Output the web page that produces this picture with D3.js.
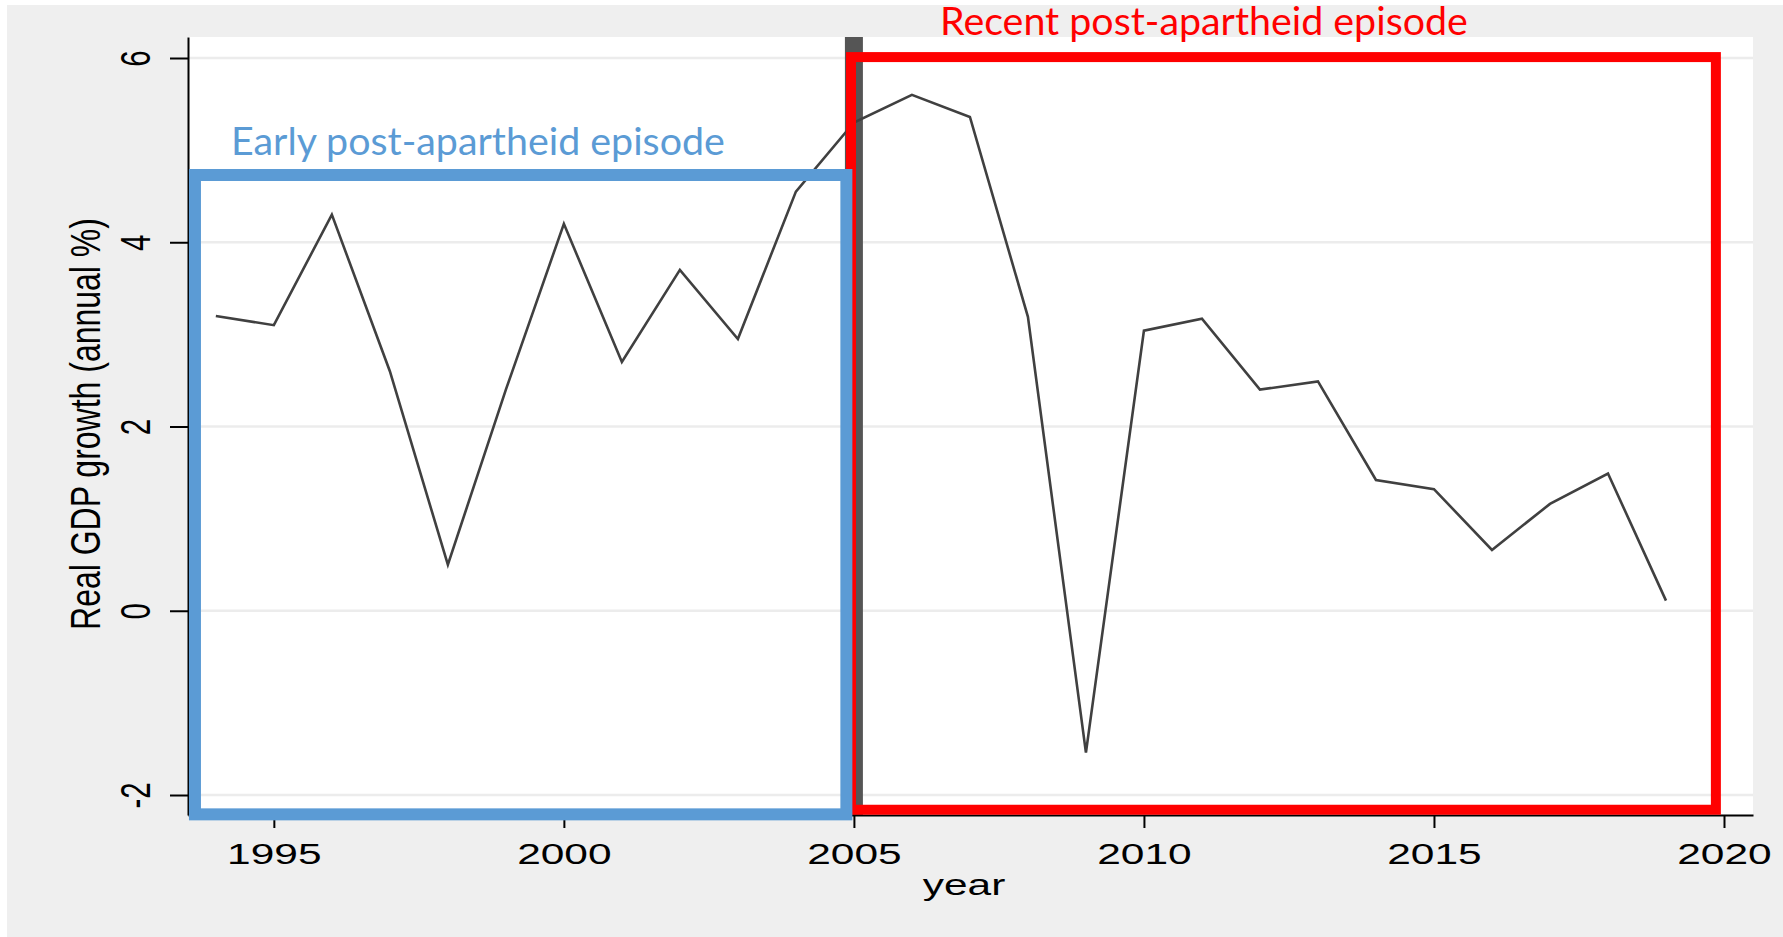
<!DOCTYPE html>
<html>
<head>
<meta charset="utf-8">
<script src="https://cdn.jsdelivr.net/npm/d3@7"></script>
<style>
  body { margin: 0; background: #fff; }
  svg { display: block; }
</style>
</head>
<body>
<svg id="chart" width="1783" height="937"></svg>
<script>
// South Africa, real GDP growth (annual %)
const years = [1994, 1995, 1996, 1997, 1998, 1999, 2000, 2001, 2002, 2003, 2004, 2005, 2006,
               2007, 2008, 2009, 2010, 2011, 2012, 2013, 2014, 2015, 2016, 2017, 2018, 2019];
const growth = [3.2, 3.1, 4.3, 2.6, 0.5, 2.4, 4.2, 2.7, 3.7, 2.95, 4.55, 5.3, 5.6,
                5.36, 3.19, -1.54, 3.04, 3.17, 2.4, 2.49, 1.42, 1.32, 0.66, 1.16, 1.49, 0.11];

const xTicks = [1995, 2000, 2005, 2010, 2015, 2020];
const yTicks = [-2, 0, 2, 4, 6];
const markYear = 2005;

// the two highlighted episodes (box extents in data units)
const episodeNames = ["Early post-apartheid episode", "Recent post-apartheid episode"];
const episodeStart = [1993.64, 2004.95];
const episodeEnd = [2004.87, 2019.86];
const episodeTop = [4.73, 6.01];
const episodeBottom = [-2.21, -2.16];
const episodeColors = ["#5b9bd5", "#ff0000"];

const svg = d3.select("svg#chart");
const plot = { left: 188, right: 1753, top: 37, bottom: 815 };
const stretch = 1.44;   // the original graph was widened, text included

const x = d3.scaleLinear().domain([1993.52, 2020.5]).range([plot.left, plot.right]);
const y = d3.scaleLinear().domain([-2.217, 6.228]).range([plot.bottom, plot.top]);

//background
svg.append("rect").attr("x", 7).attr("y", 5).attr("width", 1776).attr("height", 932).attr("fill", "#efefef");
svg.append("rect").attr("x", plot.left).attr("y", plot.top)
  .attr("width", plot.right - plot.left).attr("height", plot.bottom - plot.top).attr("fill", "#fff");

//gridlines
svg.append("g").selectAll("line").data(yTicks).join("line")
  .attr("x1", plot.left).attr("x2", plot.right)
  .attr("y1", d => y(d)).attr("y2", d => y(d))
  .attr("stroke", "#ececec").attr("stroke-width", 2.5);

//vertical line at 2005
svg.append("rect")
  .attr("x", x(markYear) - 9).attr("y", plot.top)
  .attr("width", 18).attr("height", plot.bottom - plot.top)
  .attr("fill", "#555555");

//axes
const xAxis = svg.append("g").attr("transform", "translate(0," + plot.bottom + ")")
  .call(d3.axisBottom(x).tickValues(xTicks).tickFormat(d3.format("d")).tickSize(13).tickSizeOuter(0));
const yAxis = svg.append("g").attr("transform", "translate(" + plot.left + ",0)")
  .call(d3.axisLeft(y).tickValues(yTicks).tickFormat(d => d < 0 ? "-" + Math.abs(d) : d).tickSize(18).tickSizeOuter(0));

[xAxis, yAxis].forEach(function(a){
  a.select(".domain").attr("stroke", "#000").attr("stroke-width", 2);
  a.selectAll(".tick line").attr("stroke", "#000").attr("stroke-width", 2);
  a.selectAll(".tick text")
    .attr("fill", "#000")
    .style("font-family", "'Liberation Sans', Arial, sans-serif")
    .style("font-size", "29.5px")
    .attr("x", 0).attr("y", 0).attr("dy", null)
    .attr("text-anchor", "middle");
});
xAxis.selectAll(".tick text").attr("transform", "translate(0,49) scale(" + stretch + ",1)");
yAxis.selectAll(".tick text").attr("transform", "translate(-38,0) scale(" + stretch + ",1) rotate(-90)");

//axis titles
svg.append("text").text("year")
  .attr("transform", "translate(964,895) scale(" + stretch + ",1)")
  .attr("text-anchor", "middle")
  .style("font-family", "'Liberation Sans', Arial, sans-serif").style("font-size", "29.5px");
svg.append("text").text("Real GDP growth (annual %)")
  .attr("transform", "translate(100,424) scale(1.35,1) rotate(-90)")
  .attr("text-anchor", "middle")
  .style("font-family", "'Liberation Sans', Arial, sans-serif").style("font-size", "32px");

//growth line
const line = d3.line().x((d, i) => x(years[i])).y(d => y(d));
svg.append("path").datum(growth)
  .attr("d", line)
  .attr("fill", "none")
  .attr("stroke", "#404040")
  .attr("stroke-width", 2.6)
  .attr("stroke-linejoin", "miter");

//episode boxes, recent one first so the early box sits on top
const boxStroke = [12, 10];
[1, 0].forEach(function(i){
  svg.append("rect")
    .attr("x", x(episodeStart[i])).attr("y", y(episodeTop[i]))
    .attr("width", x(episodeEnd[i]) - x(episodeStart[i]))
    .attr("height", y(episodeBottom[i]) - y(episodeTop[i]))
    .attr("fill", "none")
    .attr("stroke", episodeColors[i])
    .attr("stroke-width", boxStroke[i]);
});

//episode labels, font size fitted to the width they take in the original
const labelPos = [{ x: 231, y: 155, w: 494 }, { x: 940, y: 35, w: 528 }];
episodeNames.forEach(function(name, i){
  const t = svg.append("text").text(name)
    .attr("x", labelPos[i].x).attr("y", labelPos[i].y)
    .attr("fill", episodeColors[i])
    .style("font-family", "Lato, 'Open Sans', sans-serif")
    .style("font-size", "40px");
  const len = t.node().getComputedTextLength();
  t.style("font-size", (40 * labelPos[i].w / len) + "px");
});
</script>
</body>
</html>
